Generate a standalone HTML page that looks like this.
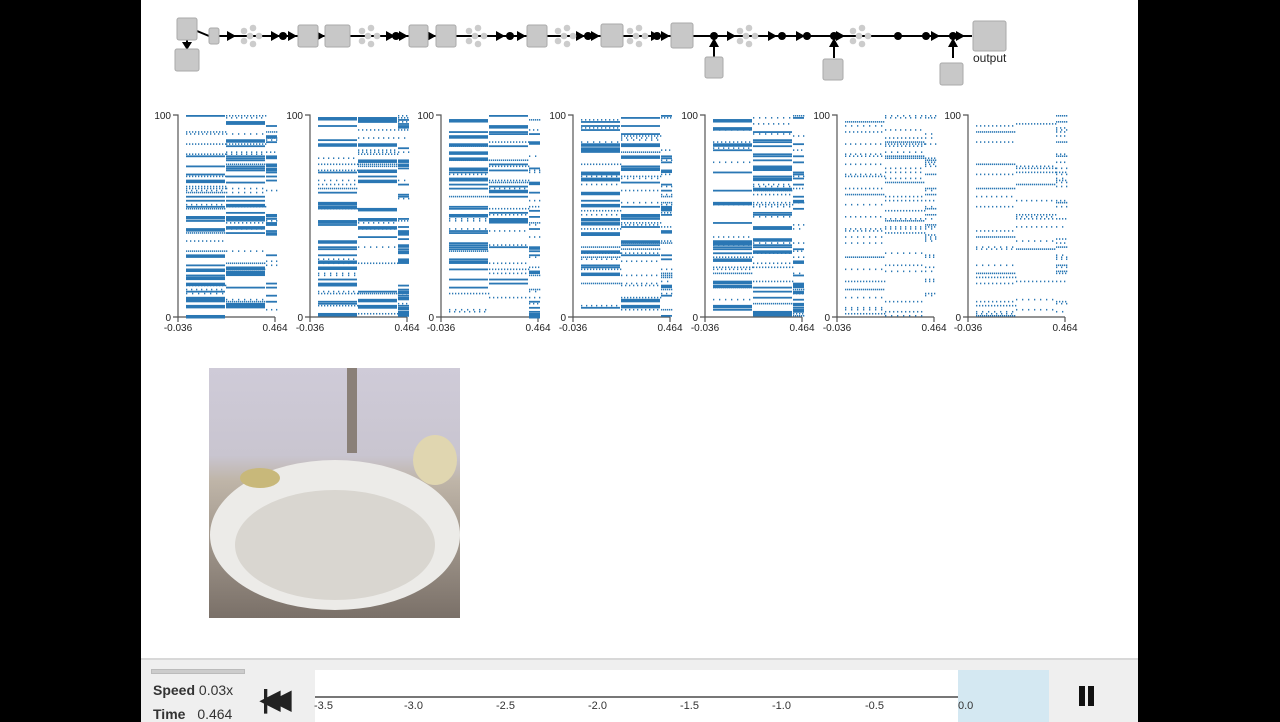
<!DOCTYPE html>
<html><head><meta charset="utf-8"><style>
body{margin:0;width:1280px;height:720px;background:#000;overflow:hidden;font-family:"Liberation Sans",sans-serif;}
#page{position:absolute;left:141px;top:0;width:997px;height:720px;background:#fff;}
#bar{position:absolute;left:141px;top:658px;width:997px;height:62px;background:#efefef;border-top:2px solid #d8d8d8;}
svg{position:absolute;left:0;top:0}
</style></head><body>
<div id="page"></div>
<div id="bar">
 <div style="position:absolute;left:10px;top:9px;width:92px;height:3px;background:#ccc;border:1px solid #bbb"></div>
 <div style="position:absolute;left:12px;top:22px;font-size:14px;font-weight:bold;color:#333">Speed <span style="font-weight:normal">0.03x</span></div>
 <div style="position:absolute;left:12px;top:46px;font-size:14px;font-weight:bold;color:#333">Time <span style="font-weight:normal;margin-left:8px">0.464</span></div>
 <div style="position:absolute;left:174px;top:10px;width:734px;height:26px;background:#fff;border-bottom:2px solid #777"></div>
 <div style="position:absolute;left:817px;top:10px;width:91px;height:52px;background:#d4e8f2"></div>
 <div style="position:absolute;left:174px;top:38px;width:734px;height:24px;background:#fff"></div>
 <div style="position:absolute;left:817px;top:38px;width:91px;height:24px;background:#d4e8f2"></div>
</div>
<svg width="1280" height="720" id="s" font-family="Liberation Sans, sans-serif"></svg>
<script>
var s=document.getElementById('s'),h='';
var seed=7;function r(){seed=(seed*16807)%2147483647;return seed/2147483647;}
h+='<line x1="219" y1="36" x2="972" y2="36" stroke="#000" stroke-width="2"/>';
h+='<line x1="197" y1="31" x2="209" y2="36" stroke="#000" stroke-width="2"/>';
h+='<line x1="187" y1="40" x2="187" y2="49" stroke="#000" stroke-width="2"/>';
function box(x,y,w,hh){h+='<rect x="'+x+'" y="'+y+'" width="'+w+'" height="'+hh+'" rx="2" fill="#c8c8c8" stroke="#aaa"/>';}
function arr(x,y){h+='<polygon points="'+(x-9)+','+(y-5)+' '+x+','+y+' '+(x-9)+','+(y+5)+'" fill="#000"/>';}
function dot(x,y){h+='<circle cx="'+x+'" cy="'+y+'" r="4" fill="#000"/>';}
function cl(x){[[-9,-5],[-9,5],[0,-8],[0,8],[-3,0],[6,0]].forEach(function(p){h+='<circle cx="'+(x+p[0])+'" cy="'+(36+p[1])+'" r="3.3" fill="#ccc"/>'});}
[236,297,325,408,436,526,600,670,736,845].forEach(function(x){arr(x,36)});
[280,395,505,585,660,777,805,940,965].forEach(function(x){arr(x,36)});
[253,371,478,567,639,749,862].forEach(cl);
[283,396,510,588,657,714,782,807,834,898,926,953].forEach(function(x){dot(x,36)});
[714,834,953].forEach(function(x){h+='<line x1="'+x+'" y1="58" x2="'+x+'" y2="42" stroke="#000" stroke-width="2"/>';h+='<polygon points="'+(x-5)+',47 '+x+',38 '+(x+5)+',47" fill="#000"/>'});
h+='<polygon points="182,42 187,50 192,42" fill="#000"/>';
box(177,18,20,22);box(175,49,24,22);box(209,28,10,16);box(298,25,20,22);box(325,25,25,22);box(409,25,19,22);box(436,25,20,22);box(527,25,20,22);box(601,24,22,23);box(671,23,22,25);box(705,57,18,21);box(823,59,20,21);box(940,63,23,22);box(973,21,33,30);
h+='<text x="973" y="62" font-size="12" fill="#222">output</text>';
var ax=[178,310,441,573,705,837,968];
for(var p=0;p<7;p++){var a=ax[p];
 h+='<path d="M'+(a-5)+' 115H'+a+'V317H'+(a+97)+'M'+(a-5)+' 317H'+a+'M'+(a+97)+' 317v5M'+a+' 317v5" stroke="#555" fill="none" stroke-width="1.2"/>';
 h+='<text x="'+(a-7)+'" y="119" font-size="10" text-anchor="end" fill="#222">100</text><text x="'+(a-7)+'" y="321" font-size="10" text-anchor="end" fill="#222">0</text>';
 h+='<text x="'+a+'" y="331" font-size="10" text-anchor="middle" fill="#222">-0.036</text><text x="'+(a+97)+'" y="331" font-size="10" text-anchor="middle" fill="#222">0.464</text>';
 var segs=[[a+8,a+48],[a+48,a+88],[a+88,a+100]];
 var dens=[0.25,0.22,0.2,0.2,0.2,0.12,0.06][p];
 for(var n=0;n<100;n++){var y=115+n*2.02;
  for(var k=0;k<3;k++){var v=r(),sg=segs[k];
   if(p<5&&v<dens){h+='<rect x="'+sg[0]+'" y="'+y+'" width="'+(sg[1]-sg[0]-1)+'" height="'+(r()<0.4?3.5:1.8)+'" fill="#2a77b4"/>';}
   else if(v<dens+0.18){var st=2+Math.floor(r()*5);for(var xx=sg[0];xx<sg[1];xx+=st){h+='<rect x="'+xx+'" y="'+y+'" width="1.3" height="1.6" fill="#2a77b4"/>';}}
  }}
}
h+='<defs><linearGradient id="g" x1="0" y1="0" x2="0" y2="1"><stop offset="0" stop-color="#cfcbd8"/><stop offset="0.35" stop-color="#c9c5d0"/><stop offset="0.45" stop-color="#bfb5a8"/><stop offset="1" stop-color="#7a7068"/></linearGradient></defs>';
h+='<rect x="209" y="368" width="251" height="250" fill="url(#g)"/>';
h+='<ellipse cx="335" cy="535" rx="125" ry="75" fill="#ecebe8"/><ellipse cx="335" cy="545" rx="100" ry="55" fill="#d9d6d0"/>';
h+='<rect x="347" y="368" width="10" height="85" fill="#8a8078"/>';
h+='<ellipse cx="260" cy="478" rx="20" ry="10" fill="#c8b87a"/><ellipse cx="435" cy="460" rx="22" ry="25" fill="#e0d6b0"/>';
s.innerHTML=h;
</script>
<div style="position:absolute;left:262px;top:684px;font-size:26px;font-weight:bold;letter-spacing:-9px;color:#222">|◀◀</div>
<div style="position:absolute;left:1079px;top:686px;width:6px;height:20px;background:#111"></div>
<div style="position:absolute;left:1088px;top:686px;width:6px;height:20px;background:#111"></div>
<div style="position:absolute;left:314px;top:700px;width:700px;font-size:11px;color:#333">
<span style="position:absolute;left:0">-3.5</span><span style="position:absolute;left:90px">-3.0</span><span style="position:absolute;left:182px">-2.5</span><span style="position:absolute;left:274px">-2.0</span><span style="position:absolute;left:366px">-1.5</span><span style="position:absolute;left:458px">-1.0</span><span style="position:absolute;left:551px">-0.5</span><span style="position:absolute;left:644px">0.0</span></div>
</body></html>
